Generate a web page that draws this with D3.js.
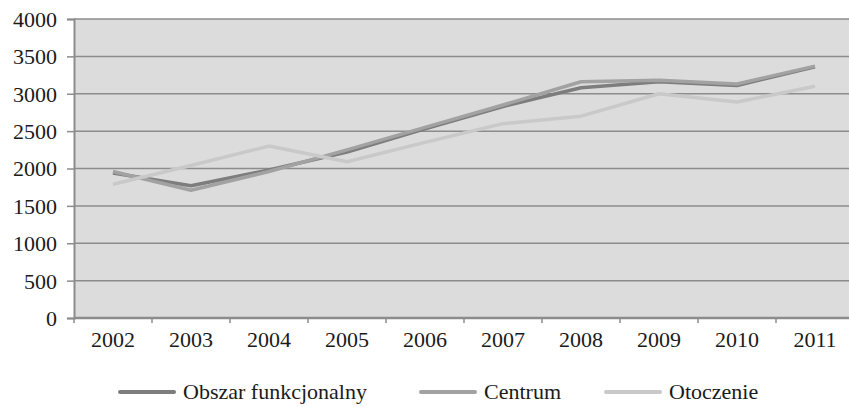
<!DOCTYPE html>
<html>
<head>
<meta charset="utf-8">
<script src="https://cdn.jsdelivr.net/npm/d3@7"></script>
</head>
<body style="margin:0;background:#fff">
<svg id="chart" width="849" height="407" style="display:block"></svg>
<script>
const years = ["2002", "2003", "2004", "2005", "2006", "2007", "2008", "2009", "2010", "2011"];
const obszar = [1940, 1770, 1980, 2220, 2530, 2830, 3080, 3160, 3110, 3360];
const centrum = [1960, 1710, 1960, 2250, 2550, 2850, 3160, 3180, 3130, 3370];
const otoczenie = [1790, 2040, 2300, 2090, 2350, 2600, 2700, 3000, 2890, 3100];
const yTicks = [0, 500, 1000, 1500, 2000, 2500, 3000, 3500, 4000];

const series = [
    {name: "Obszar funkcjonalny", values: obszar, color: "#7d7d7d"},
    {name: "Centrum", values: centrum, color: "#a2a2a2"},
    {name: "Otoczenie", values: otoczenie, color: "#c9c9c9"}
];

const FONT = "Liberation Serif";

const svg = d3.select("#chart");
const plot = {left: 74, right: 854, top: 19, bottom: 318};

const x = d3.scaleBand().domain(years).range([plot.left, plot.right]);
const y = d3.scaleLinear().domain([0, 4000]).range([plot.bottom, plot.top]);

// plot background
svg.append("rect")
    .attr("x", plot.left)
    .attr("y", plot.top)
    .attr("width", plot.right - plot.left)
    .attr("height", plot.bottom - plot.top)
    .attr("fill", "#dcdcdd");

// gridlines
svg.append("g")
    .selectAll("line")
    .data(yTicks.filter(d => d > 0))
    .enter()
    .append("line")
    .attr("x1", plot.left)
    .attr("x2", plot.right)
    .attr("y1", d => y(d))
    .attr("y2", d => y(d))
    .attr("stroke", "#8c8c8c")
    .attr("stroke-width", 1.5);

// y axis
const yAxis = svg.append("g")
    .attr("transform", `translate(${plot.left},0)`)
    .call(d3.axisLeft(y).tickValues(yTicks).tickSize(7).tickPadding(10).tickFormat(d3.format("d")))
    .attr("font-family", FONT)
    .attr("font-size", 22);
yAxis.select(".domain").attr("stroke", "#8c8c8c").attr("stroke-width", 2);
yAxis.selectAll(".tick line").attr("stroke", "#8c8c8c").attr("stroke-width", 1.5);
yAxis.selectAll(".tick text")
    .attr("dy", "0.34em")
    .attr("font-family", FONT)
    .attr("font-size", 22)
    .attr("fill", "#1a1a1a");

// x axis
const xAxis = svg.append("g")
    .attr("transform", `translate(0,${plot.bottom})`)
    .call(d3.axisBottom(x).tickSize(0).tickPadding(22))
    .attr("font-family", FONT)
    .attr("font-size", 22);
xAxis.select(".domain").remove();
xAxis.selectAll(".tick text")
    .attr("dy", "0.34em")
    .attr("font-family", FONT)
    .attr("font-size", 22)
    .attr("fill", "#1a1a1a");

svg.append("line")
    .attr("x1", plot.left)
    .attr("x2", plot.right)
    .attr("y1", plot.bottom)
    .attr("y2", plot.bottom)
    .attr("stroke", "#8c8c8c")
    .attr("stroke-width", 2.5);

svg.append("g")
    .selectAll("line")
    .data(years)
    .enter()
    .append("line")
    .attr("x1", d => x(d))
    .attr("x2", d => x(d))
    .attr("y1", plot.bottom)
    .attr("y2", plot.bottom + 5)
    .attr("stroke", "#8c8c8c")
    .attr("stroke-width", 1.5);

// lines
const line = d3.line()
    .x((d, i) => x(years[i]) + x.bandwidth() / 2)
    .y(d => y(d));

svg.append("g")
    .selectAll("path")
    .data(series)
    .enter()
    .append("path")
    .attr("d", d => line(d.values))
    .attr("fill", "none")
    .attr("stroke", d => d.color)
    .attr("stroke-width", 3.5)
    .attr("stroke-linejoin", "round");

// legend
const legendX = [120, 421, 606];
const legend = svg.append("g")
    .attr("font-family", FONT)
    .attr("font-size", 22)
    .selectAll("g")
    .data(series)
    .enter()
    .append("g")
    .attr("transform", (d, i) => `translate(${legendX[i]},392)`);

legend.append("line")
    .attr("x1", 0)
    .attr("x2", 54)
    .attr("stroke", d => d.color)
    .attr("stroke-width", 4)
    .attr("stroke-linecap", "round");

legend.append("text")
    .attr("x", 63)
    .attr("dy", "0.34em")
    .attr("fill", "#1a1a1a")
    .text(d => d.name);
</script>
</body>
</html>
